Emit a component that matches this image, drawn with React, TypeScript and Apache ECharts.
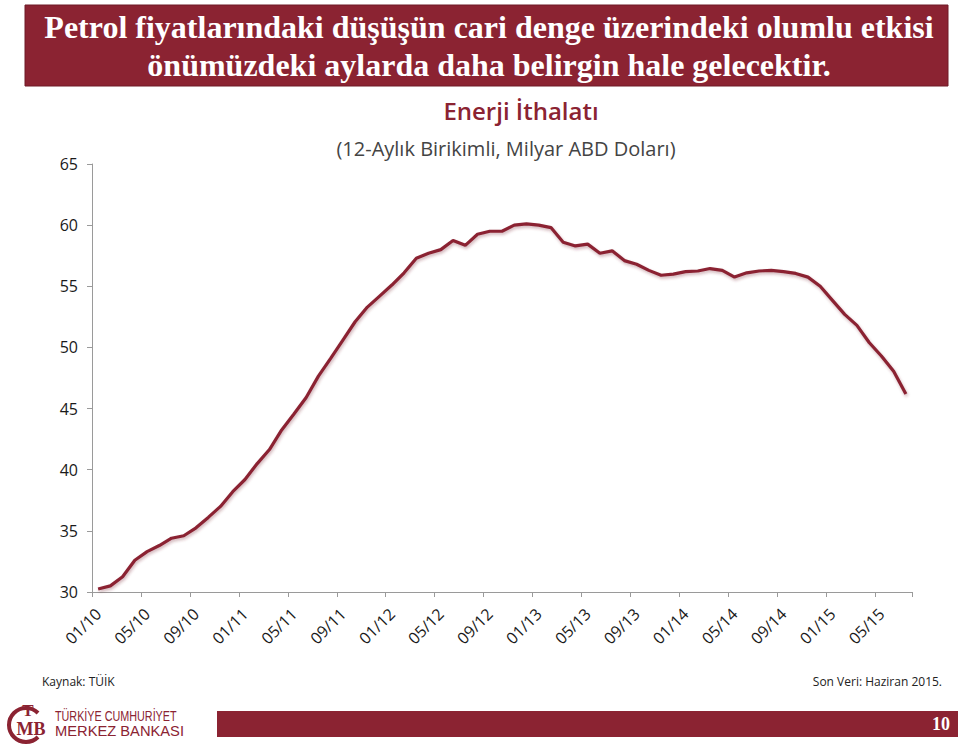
import React, { useEffect, useRef } from "react";
import * as echarts from "echarts";

const categories = [
  "01/10","02/10","03/10","04/10","05/10","06/10","07/10","08/10","09/10","10/10","11/10","12/10",
  "01/11","02/11","03/11","04/11","05/11","06/11","07/11","08/11","09/11","10/11","11/11","12/11",
  "01/12","02/12","03/12","04/12","05/12","06/12","07/12","08/12","09/12","10/12","11/12","12/12",
  "01/13","02/13","03/13","04/13","05/13","06/13","07/13","08/13","09/13","10/13","11/13","12/13",
  "01/14","02/14","03/14","04/14","05/14","06/14","07/14","08/14","09/14","10/14","11/14","12/14",
  "01/15","02/15","03/15","04/15","05/15","06/15","07/15",
];

const energyImports = [
  30.25, 30.5, 31.25, 32.6, 33.3, 33.8, 34.4, 34.6, 35.25, 36.1,
  37.0, 38.2, 39.2, 40.5, 41.65, 43.25, 44.55, 45.9, 47.65, 49.1,
  50.6, 52.1, 53.3, 54.2, 55.1, 56.1, 57.3, 57.7, 58.0, 58.75,
  58.35, 59.25, 59.5, 59.5, 60.0, 60.1, 60.0, 59.8, 58.6, 58.3,
  58.45, 57.7, 57.9, 57.1, 56.8, 56.3, 55.9, 56.0, 56.2, 56.25,
  56.45, 56.3, 55.75, 56.1, 56.25, 56.3, 56.2, 56.05, 55.75, 55.0,
  53.85, 52.7, 51.8, 50.4, 49.3, 48.05, 46.2,
];

const headline1 = "Petrol fiyatlarındaki düşüşün cari denge üzerindeki olumlu etkisi";
const headline2 = "önümüzdeki aylarda daha belirgin hale gelecektir.";
const chartTitle = "Enerji İthalatı";
const chartSubtitle = "(12-Aylık Birikimli, Milyar ABD Doları)";
const sourceText = "Kaynak: TÜİK";
const lastDataText = "Son Veri: Haziran 2015.";
const pageNumber = "10";

const RED = "#8B2332";
const SANS = "'Open Sans', 'Noto Sans', 'Liberation Sans', sans-serif";
const SERIF = "'Liberation Serif', 'DejaVu Serif', serif";

export default function App() {
  const ref = useRef<HTMLDivElement>(null);

  useEffect(() => {
    document.body.style.margin = "0";
    if (!ref.current) return;
    const chart = echarts.init(ref.current, undefined, { renderer: "svg" });
    chart.setOption({
      animation: false,
      backgroundColor: "#ffffff",
      grid: { left: 92, right: 48, top: 164, bottom: 153, containLabel: false },
      xAxis: {
        type: "category",
        data: categories,
        boundaryGap: true,
        axisLine: { show: true, lineStyle: { color: "#9a9a9a", width: 1 } },
        axisTick: { show: true, interval: 3, length: 5, lineStyle: { color: "#9a9a9a" } },
        axisLabel: {
          interval: 3,
          rotate: 45,
          fontSize: 16,
          color: "#1a1a1a",
          fontFamily: SANS,
          margin: 19,
        },
        splitLine: { show: false },
      },
      yAxis: {
        type: "value",
        min: 30,
        max: 65,
        interval: 5,
        axisLine: { show: true, lineStyle: { color: "#9a9a9a", width: 1 } },
        axisTick: { show: true, length: 5, lineStyle: { color: "#9a9a9a" } },
        axisLabel: { fontSize: 16, color: "#1a1a1a", fontFamily: SANS, margin: 14 },
        splitLine: { show: false },
      },
      series: [
        {
          type: "line",
          data: energyImports,
          showSymbol: false,
          symbol: "none",
          smooth: false,
          lineStyle: {
            color: RED,
            width: 3.2,
            shadowColor: "rgba(120,40,50,0.35)",
            shadowBlur: 3,
            shadowOffsetY: 2,
            shadowOffsetX: 1,
          },
        },
      ],
      graphic: [
        {
          type: "rect",
          shape: { x: 25, y: 5, width: 923, height: 81 },
          style: { fill: RED, stroke: "#6e1a27", lineWidth: 1 },
        },
        {
          type: "text",
          x: 489,
          y: 27,
          style: {
            text: headline1,
            fill: "#ffffff",
            font: `bold 32px ${SERIF}`,
            textAlign: "center",
            textVerticalAlign: "middle",
          },
        },
        {
          type: "text",
          x: 489,
          y: 65,
          style: {
            text: headline2,
            fill: "#ffffff",
            font: `bold 32px ${SERIF}`,
            textAlign: "center",
            textVerticalAlign: "middle",
          },
        },
        {
          type: "text",
          x: 521,
          y: 110,
          style: {
            text: chartTitle,
            fill: RED,
            font: `600 24px ${SANS}`,
            textAlign: "center",
            textVerticalAlign: "middle",
          },
        },
        {
          type: "text",
          x: 506,
          y: 148,
          style: {
            text: chartSubtitle,
            fill: "#444444",
            font: `20px ${SANS}`,
            textAlign: "center",
            textVerticalAlign: "middle",
          },
        },
        {
          type: "text",
          x: 42,
          y: 681,
          style: {
            text: sourceText,
            fill: "#222222",
            font: `12px ${SANS}`,
            textAlign: "left",
            textVerticalAlign: "middle",
          },
        },
        {
          type: "text",
          x: 942,
          y: 681,
          style: {
            text: lastDataText,
            fill: "#222222",
            font: `12px ${SANS}`,
            textAlign: "right",
            textVerticalAlign: "middle",
          },
        },
        {
          type: "rect",
          shape: { x: 217, y: 711, width: 741, height: 26 },
          style: { fill: RED },
        },
        {
          type: "text",
          x: 941,
          y: 724,
          style: {
            text: pageNumber,
            fill: "#ffffff",
            font: `bold 18px ${SERIF}`,
            textAlign: "center",
            textVerticalAlign: "middle",
          },
        },
        {
          type: "arc",
          shape: { cx: 26, cy: 725, r: 17, startAngle: Math.PI * 0.25, endAngle: Math.PI * 1.75, clockwise: true },
          style: { stroke: RED, lineWidth: 4, fill: "none" },
        },
        {
          type: "text",
          x: 28,
          y: 710,
          style: {
            text: "T",
            fill: RED,
            font: `bold 17px ${SERIF}`,
            textAlign: "center",
            textVerticalAlign: "middle",
          },
        },
        {
          type: "text",
          x: 31,
          y: 729,
          style: {
            text: "MB",
            fill: RED,
            font: `bold 18px ${SERIF}`,
            textAlign: "center",
            textVerticalAlign: "middle",
          },
        },
        {
          type: "text",
          x: 55,
          y: 716,
          scaleX: 0.72,
          style: {
            text: "TÜRKİYE CUMHURİYET",
            fill: RED,
            font: `15px 'Liberation Sans', sans-serif`,
            textAlign: "left",
            textVerticalAlign: "middle",
          },
        },
        {
          type: "text",
          x: 55,
          y: 731,
          scaleX: 1.05,
          style: {
            text: "MERKEZ BANKASI",
            fill: RED,
            font: `14px 'Liberation Sans', sans-serif`,
            textAlign: "left",
            textVerticalAlign: "middle",
          },
        },
      ],
    });
    return () => chart.dispose();
  }, []);

  return (
    <div
      ref={ref}
      style={{ position: "absolute", left: 0, top: 0, width: 960, height: 745 }}
    />
  );
}
